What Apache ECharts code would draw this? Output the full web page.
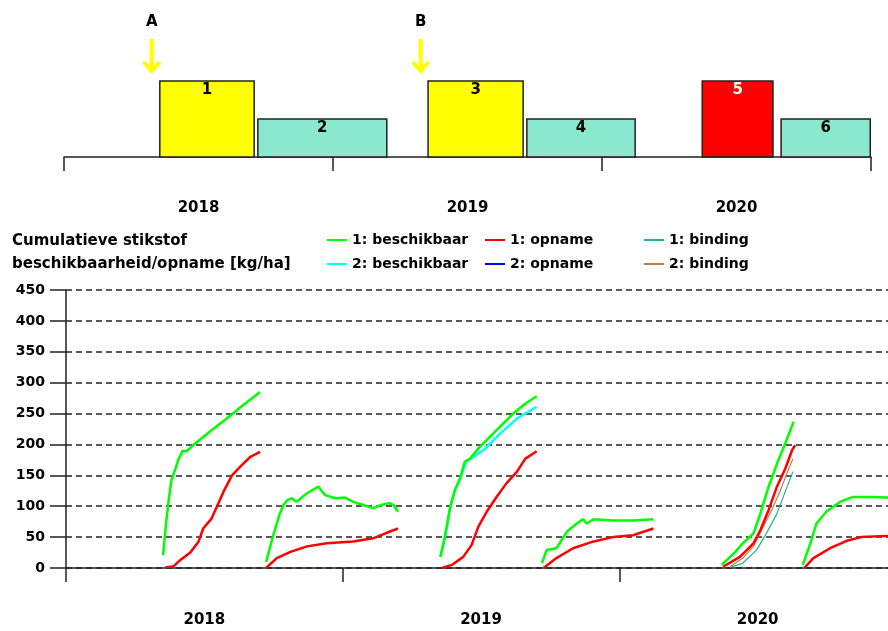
<!DOCTYPE html>
<html><head><meta charset="utf-8">
<script src="https://cdn.jsdelivr.net/npm/echarts@6/dist/echarts.min.js"></script>
<style>html,body{margin:0;padding:0;background:#fff}#c{width:888px;height:631px}</style>
</head><body><div id="c"></div>
<script>
// ---- data (x = day number counted from 1 Jan 2018) ----
const years = ['2018', '2019', '2020'];
const cropLabels = ['1', '2', '3', '4', '5', '6'];
const cropStart = [130, 263, 494, 628, 866, 973];
const cropEnd = [258, 438, 623, 775, 962, 1094];
const cropHeight = [1, 0.5, 1, 0.5, 1, 0.5];
const eventLabels = ['A', 'B'];
const eventDays = [119, 484];

// 1: beschikbaar (segments per crop)
const avail1 = [
  [[128,21],[132,72],[135,105],[139,142],[144,159],[148,175],[154,190],[159,189],[168,199],[190,221],[212,242],[234,264],[256,285]],
  [[264,10],[273,51],[282,88],[287,102],[292,110],[298,113],[304,107],[318,121],[333,132],[337,125],[342,118],[355,113],[368,114],[379,107],[392,102],[405,97],[416,102],[427,105],[432,102],[438,91]],
  [[494,18],[500,51],[507,99],[513,126],[520,145],[526,172],[533,177],[546,196],[568,223],[590,250],[608,268],[621,278]],
  [[628,8],[634,29],[647,32],[661,59],[674,72],[682,79],[687,72],[696,79],[722,77],[748,77],[775,79]],
  [[865,5],[883,26],[893,40],[907,56],[916,88],[927,132],[938,169],[949,202],[960,237]],
  [[972,5],[982,40],[990,72],[1003,91],[1021,107],[1038,115],[1061,115],[1083,114],[1094,113]]
];
// 2: beschikbaar (visible where it departs from 1)
const avail2 = [
  [[494,18],[500,51],[507,99],[513,126],[520,145],[528,172],[551,191],[573,218],[595,242],[621,261]]
];
// 1: opname
const uptake1 = [
  [[131,1],[142,3],[150,12],[164,25],[175,43],[181,64],[192,80],[199,99],[208,124],[219,150],[230,164],[243,180],[256,188]],
  [[264,0],[278,16],[296,26],[318,35],[344,40],[379,43],[405,48],[423,57],[438,64]],
  [[496,0],[509,5],[524,18],[535,37],[544,67],[555,91],[568,115],[581,137],[595,156],[606,177],[621,189]],
  [[630,0],[647,16],[669,32],[696,43],[722,50],[748,53],[775,64]],
  [[867,2],[889,18],[907,40],[916,61],[927,94],[938,132],[949,161],[958,191],[962,199]],
  [[974,0],[986,16],[1008,32],[1030,44],[1049,50],[1083,52],[1094,52]]
];
// 2: opname (coincides with 1: opname, not visible)
const uptake2 = [];
// 1: binding
const binding1 = [
  [[876,1],[893,8],[911,29],[924,56],[938,88],[949,124],[959,156]]
];
// 2: binding
const binding2 = [
  [[876,2],[893,16],[907,35],[920,67],[931,94],[942,124],[951,153],[959,177]]
];

// ---- styles ----
const FONT = 'DejaVu Sans';
const cropColors = ['#FFFF00', '#8AE8CF', '#FFFF00', '#8AE8CF', '#FF0000', '#8AE8CF'];
const cropTextColors = ['#000', '#000', '#000', '#000', '#fff', '#000'];

function lineSeries(name, segs, color, width) {
  const out = segs.map(s => ({
    name, type: 'line', xAxisIndex: 2, yAxisIndex: 1, data: s,
    symbol: 'none', showSymbol: false, animation: false, silent: true,
    lineStyle: { color, width }, itemStyle: { color }
  }));
  if (!out.length) out.push({ name, type: 'line', xAxisIndex: 2, yAxisIndex: 1, data: [],
    symbol: 'none', lineStyle: { color, width }, itemStyle: { color } });
  return out;
}

const chart = echarts.init(document.getElementById('c'));
const legendCommon = {
  orient: 'vertical', top: 233, padding: 0, itemWidth: 20, itemHeight: 14, itemGap: 10,
  itemStyle: { opacity: 0 },
  textStyle: { fontFamily: FONT, fontWeight: 'bold', fontSize: 14, color: '#000' },
  selectedMode: false
};
chart.setOption({
  animation: false,
  textStyle: { fontFamily: FONT },
  title: {
    text: 'Cumulatieve stikstof\nbeschikbaarheid/opname [kg/ha]',
    left: 12, top: 230, padding: 0,
    textStyle: { fontFamily: FONT, fontWeight: 'bold', fontSize: 15, color: '#000', lineHeight: 23 }
  },
  legend: [
    Object.assign({ left: 326, data: ['1: beschikbaar', '2: beschikbaar'] }, legendCommon),
    Object.assign({ left: 484, data: ['1: opname', '2: opname'] }, legendCommon),
    Object.assign({ left: 643, data: ['1: binding', '2: binding'] }, legendCommon)
  ],
  grid: [
    { left: 64, right: 17, top: 81, height: 76, outerBoundsMode: 'none' },
    { left: 66, right: -8, top: 290, bottom: 63, outerBoundsMode: 'none' }
  ],
  xAxis: [
    { gridIndex: 0, type: 'value', min: 0, max: 1095, interval: 365,
      axisLine: { show: true, lineStyle: { color: '#222', width: 1.5 } },
      axisTick: { show: true, length: 14, lineStyle: { color: '#222', width: 1.5 } },
      axisLabel: { show: false }, splitLine: { show: false } },
    { gridIndex: 0, type: 'category', data: years, boundaryGap: true, position: 'bottom',
      axisLine: { show: false }, axisTick: { show: false },
      axisLabel: { margin: 44, fontFamily: FONT, fontWeight: 'bold', fontSize: 15, color: '#000' } },
    { gridIndex: 1, type: 'value', min: 0, max: 1095, interval: 365,
      axisLine: { show: true, onZero: false, lineStyle: { color: '#222', width: 1.5 } },
      axisTick: { show: true, length: 14, lineStyle: { color: '#222', width: 1.5 } },
      axisLabel: { show: false }, splitLine: { show: false } },
    { gridIndex: 1, type: 'category', data: years, boundaryGap: true, position: 'bottom',
      axisLine: { show: false }, axisTick: { show: false },
      axisLabel: { margin: 45, fontFamily: FONT, fontWeight: 'bold', fontSize: 15, color: '#000' } }
  ],
  yAxis: [
    { gridIndex: 0, type: 'value', min: 0, max: 1, show: false },
    { gridIndex: 1, type: 'value', min: 0, max: 450, interval: 50,
      axisLine: { show: true, lineStyle: { color: '#222', width: 1.5 } },
      axisTick: { show: true, length: 16, lineStyle: { color: '#222', width: 1.5 } },
      axisLabel: { margin: 21, fontFamily: FONT, fontWeight: 'bold', fontSize: 14, color: '#000' },
      splitLine: { show: true, lineStyle: { color: '#222', width: 1.5, type: [6, 4] } } }
  ],
  series: [
    {
      type: 'custom', xAxisIndex: 0, yAxisIndex: 0, clip: false, silent: true,
      data: cropStart.map((s, i) => [s, cropEnd[i], cropHeight[i]]),
      renderItem(params, api) {
        const i = params.dataIndex;
        const p0 = api.coord([api.value(0), api.value(2)]);
        const p1 = api.coord([api.value(1), 0]);
        return { type: 'group', children: [
          { type: 'rect', shape: { x: p0[0], y: p0[1], width: p1[0] - p0[0], height: p1[1] - p0[1] },
            style: { fill: cropColors[i], stroke: '#222', lineWidth: 1.5 } },
          { type: 'text', x: (p0[0] + p1[0]) / 2, y: p0[1] + 2,
            style: { text: cropLabels[i], align: 'center', verticalAlign: 'top',
              font: 'bold 15px "' + FONT + '"', fill: cropTextColors[i] } }
        ] };
      }
    },
    {
      type: 'custom', xAxisIndex: 0, yAxisIndex: 0, clip: false, silent: true,
      data: eventDays.map(d => [d, 1]),
      renderItem(params, api) {
        const i = params.dataIndex;
        const p = api.coord([api.value(0), api.value(1)]);
        const x = p[0], top = p[1];
        const tip = top - 9, stemTop = top - 42;
        const st = { stroke: '#FFFF00', lineWidth: 4 };
        return { type: 'group', children: [
          { type: 'line', shape: { x1: x, y1: stemTop, x2: x, y2: tip }, style: st },
          { type: 'polyline', shape: { points: [[x - 8, tip - 10], [x, tip - 1], [x + 8, tip - 10]] }, style: Object.assign({ fill: null }, st) },
          { type: 'text', x: x, y: top - 59, style: { text: eventLabels[i], align: 'center', verticalAlign: 'middle',
              font: 'bold 15px "' + FONT + '"', fill: '#000' } }
        ] };
      }
    },
    ...lineSeries('1: binding', binding1, '#20B58A', 1.2),
    ...lineSeries('2: binding', binding2, '#CC7A45', 1.2),
    ...lineSeries('2: beschikbaar', avail2, '#00FFFF', 2.5),
    ...lineSeries('1: beschikbaar', avail1, '#00FF00', 2.5),
    ...lineSeries('2: opname', uptake2, '#0000FF', 2.5),
    ...lineSeries('1: opname', uptake1, '#FF0000', 2.5)
  ]
});
</script></body></html>
